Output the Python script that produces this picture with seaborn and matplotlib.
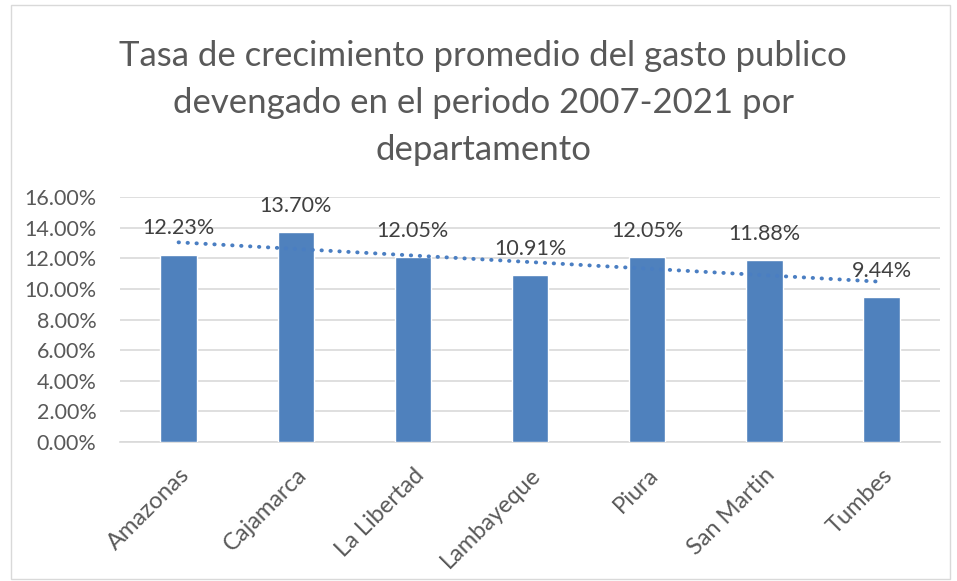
import matplotlib.pyplot as plt
import matplotlib.patches as mpatches
import matplotlib.transforms as mtransforms
from matplotlib.ticker import FuncFormatter
import seaborn as sns
import pandas as pd
import numpy as np

departamentos = ["Amazonas", "Cajamarca", "La Libertad", "Lambayeque", "Piura", "San Martin", "Tumbes"]
tasas = [12.23, 13.70, 12.05, 10.91, 12.05, 11.88, 9.44]
titulo = "Tasa de crecimiento promedio del gasto publico\ndevengado en el periodo 2007-2021 por\ndepartamento"

df = pd.DataFrame({"Departamento": departamentos, "Tasa": np.array(tasas) / 100})

sns.set_theme(style="white")
plt.rcParams["font.family"] = ["Lato", "DejaVu Sans"]
TXT = "#595959"
AZUL = "#4F81BD"

fig = plt.figure(figsize=(9.57, 5.81), dpi=100)
ax = fig.add_axes([0.1254, 0.239, 0.857, 0.422])

sns.barplot(data=df, x="Departamento", y="Tasa", color=AZUL, width=0.31,
            saturation=1, ax=ax, zorder=3)

# linea de tendencia lineal (como en Excel)
xs = np.arange(len(tasas))
b, a = np.polyfit(xs, df["Tasa"].values, 1)
ax.plot(xs, a + b * xs, linestyle=(0, (0.1, 2.2)), dash_capstyle="round",
        color="#4A7EC2", linewidth=2.8, zorder=4)

for i, v in enumerate(df["Tasa"]):
    ax.annotate(f"{v*100:.2f}%", (i, v), xytext=(0, 19), textcoords="offset points",
                ha="center", va="center", fontsize=15.5, color="#404040", zorder=5)

ax.set_ylim(0, 0.16)
ax.set_xlim(-0.5, len(tasas) - 0.5)
ax.set_yticks(np.arange(0, 0.161, 0.02))
ax.yaxis.set_major_formatter(FuncFormatter(lambda v, p: f"{v*100:.2f}%"))
ax.grid(axis="y", color="#D9D9D9", linewidth=1.2, zorder=0)
ax.set_axisbelow(True)
for s in ["top", "right", "left"]:
    ax.spines[s].set_visible(False)
ax.spines["bottom"].set_color("#D9D9D9")
ax.spines["bottom"].set_linewidth(1.2)
ax.set_xlabel("")
ax.set_ylabel("")
ax.tick_params(axis="y", labelsize=15.5, labelcolor=TXT, length=0, pad=17)
ax.tick_params(axis="x", labelsize=17, labelcolor=TXT, length=0, pad=16)
for lab in ax.get_xticklabels():
    lab.set_rotation(45)
    lab.set_ha("right")
    lab.set_va("top")
    lab.set_rotation_mode("anchor")

fig.text(0.505, 0.822, titulo, ha="center", va="center", fontsize=25,
         color=TXT, linespacing=1.58)

fig.patches.append(mpatches.Rectangle((0.011, 0.004), 0.982, 0.988, transform=fig.transFigure,
                                      fill=False, edgecolor="#D9D9D9", linewidth=1))

fig.savefig("out.png", dpi=100)
